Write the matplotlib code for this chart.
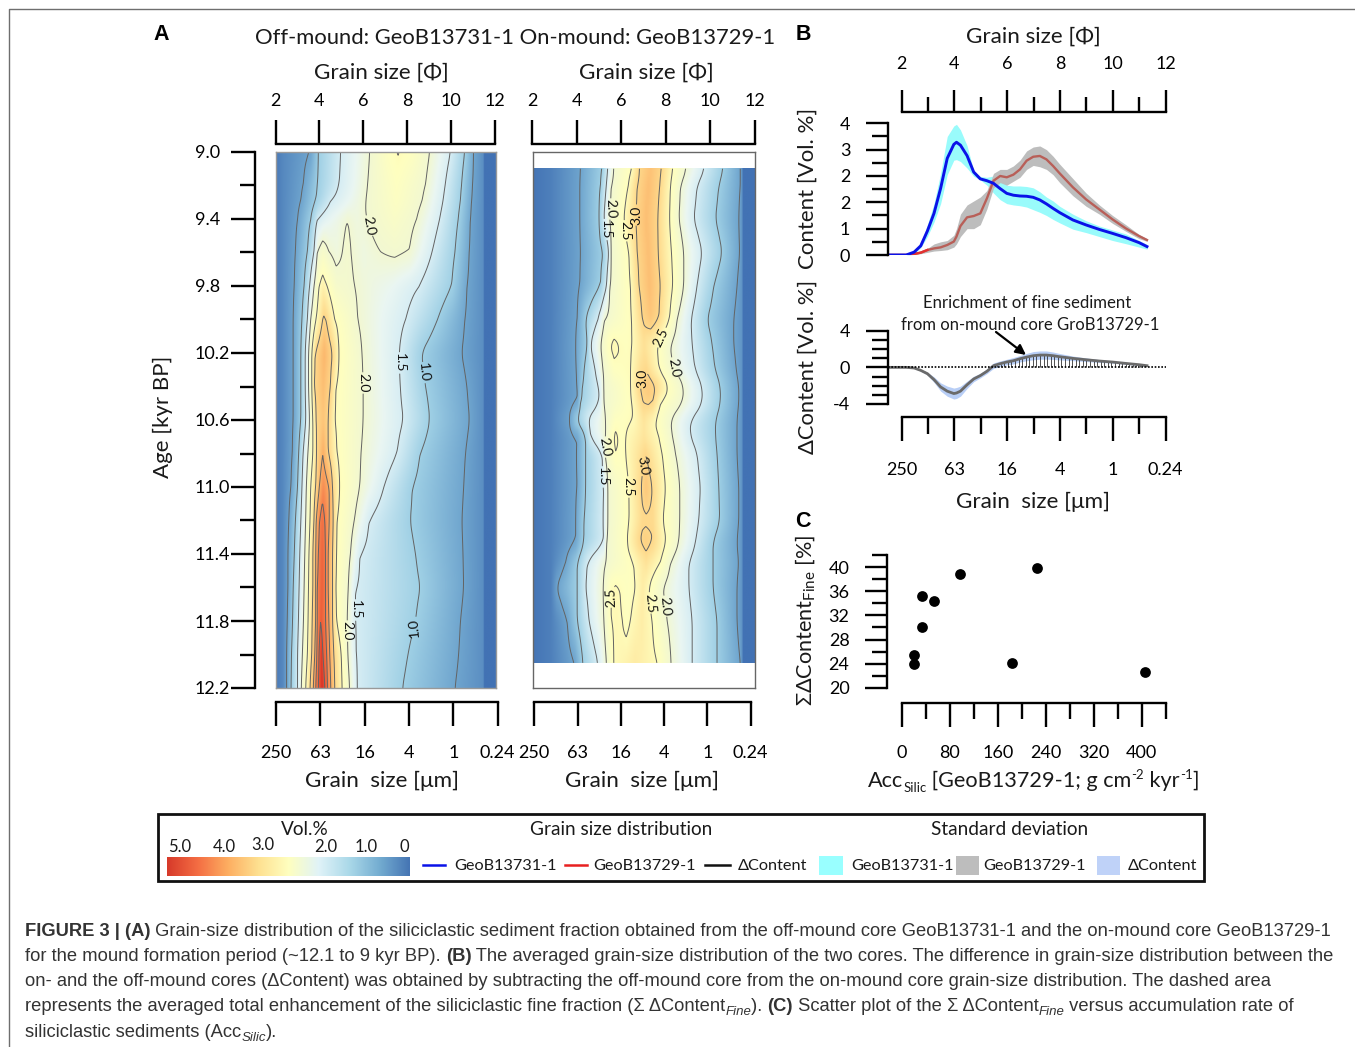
import numpy as np
import matplotlib
matplotlib.use("Agg")
import matplotlib.pyplot as plt
from matplotlib.colors import LinearSegmentedColormap
from matplotlib.patches import Rectangle

W, H = 1355, 1047
plt.rcParams["font.family"] = ["Lato", "DejaVu Sans"]
plt.rcParams["mathtext.default"] = "regular"

# ===== PANEL A DATA: (phi, vol%) knots per age row =====
LEFT_AGES = [9.0, 9.2, 9.3, 9.4, 9.6, 9.8, 10.0, 10.2, 10.4, 10.6, 10.8, 11.0, 11.2, 11.4, 11.6, 11.8, 12.0, 12.2]
LEFT_ROWS = [
    [(3.58,.5),(3.95,1),(4.97,1.5),(6.3,2),(7.1,2.4),(7.6,2.52),(8.2,2.4),(9.05,2),(10,1.5),(10.65,1),(11.05,.5)],
    [(3.26,.5),(3.9,1),(4.9,1.5),(6.2,2),(7.5,2.4),(8.85,2),(9.75,1.5),(10.5,1),(11,.5)],
    [(3.15,.5),(3.83,1),(4.5,1.5),(6.1,2),(7.5,2.35),(8.7,2),(9.65,1.5),(10.45,1),(10.95,.5)],
    [(3,.5),(3.6,1),(3.9,1.5),(4.3,1.7),(5.27,2),(5.7,1.9),(6.15,2),(7.4,2.25),(8.45,2),(9.5,1.5),(10.35,1),(10.9,.5)],
    [(2.9,.5),(3.45,1),(3.75,1.5),(3.9,2),(4.15,2.2),(4.43,2),(4.77,1.9),(5.05,2),(5.25,2.08),(5.45,2),(6,1.88),(6.8,2),(7.45,2.05),(8.1,2),(9.15,1.5),(10.2,1),(10.85,.5)],
    [(2.85,.5),(3.3,1),(3.55,1.5),(3.75,2),(3.98,2.5),(4.15,2.65),(4.35,2.5),(4.75,2.15),(5.6,2),(6.5,1.85),(7.3,1.75),(8.55,1.5),(10.05,1),(10.75,.5)],
    [(2.8,.5),(3.2,1),(3.45,1.5),(3.6,2),(3.85,2.5),(4.15,3),(4.2,3.05),(4.3,3),(4.7,2.5),(5.75,2),(6.8,1.75),(7.95,1.5),(9.4,1),(10.65,.5)],
    [(2.8,.5),(3.15,1),(3.35,1.5),(3.5,2),(3.65,2.5),(3.8,3),(4.2,3.4),(4.6,3),(4.9,2.5),(5.95,2),(7.65,1.5),(8.65,1),(10.5,.5)],
    [(2.8,.5),(3.15,1),(3.35,1.5),(3.5,2),(3.65,2.5),(3.75,3),(4.15,3.3),(4.5,3),(4.75,2.5),(6,2),(7.7,1.5),(8.85,1),(10.75,.5)],
    [(2.8,.5),(3.15,1),(3.38,1.5),(3.55,2),(3.7,2.5),(3.85,3),(4.15,3.2),(4.4,3),(4.7,2.5),(6,2),(7.85,1.5),(9.05,1),(10.87,.5)],
    [(2.76,.5),(3.05,1),(3.25,1.5),(3.47,2),(3.7,2.5),(3.87,3),(4.15,3.48),(4.4,3),(4.8,2.5),(5.9,2),(7.55,1.5),(8.6,1),(10.68,.5)],
    [(2.7,.5),(3,1),(3.2,1.5),(3.4,2),(3.6,2.5),(3.83,3),(4,3.5),(4.15,3.85),(4.45,3.5),(4.6,3),(4.93,2.5),(5.85,2),(6.95,1.5),(8.25,1),(10.6,.5)],
    [(2.6,.5),(2.9,1),(3.15,1.5),(3.37,2),(3.57,2.5),(3.75,3),(3.85,3.5),(4,4),(4.12,4.2),(4.25,4),(4.45,3.5),(4.63,3),(4.8,2.5),(5.6,2),(6.27,1.5),(8.15,1),(10.52,.5)],
    [(2.56,.5),(2.85,1),(3.1,1.5),(3.33,2),(3.52,2.5),(3.7,3),(3.83,3.5),(3.95,4),(4.1,4.35),(4.28,4),(4.4,3.5),(4.6,3),(4.78,2.5),(5.42,2),(5.85,1.5),(8.4,1),(10.57,.5)],
    [(2.56,.5),(2.8,1),(3.07,1.5),(3.3,2),(3.5,2.5),(3.7,3),(3.83,3.5),(3.9,4),(4.1,4.42),(4.28,4),(4.4,3.5),(4.6,3),(4.75,2.5),(5.32,2),(5.65,1.5),(8.62,1),(10.6,.5)],
    [(2.53,.5),(2.77,1),(3.04,1.5),(3.27,2),(3.48,2.5),(3.67,3),(3.83,3.5),(3.9,4),(4.05,4.48),(4.28,4),(4.43,3.5),(4.6,3),(4.78,2.5),(5.27,2),(5.65,1.5),(8.4,1),(10.45,.5)],
    [(2.5,.5),(2.72,1),(3,1.5),(3.22,2),(3.45,2.5),(3.65,3),(3.79,3.5),(3.88,4),(3.98,4.5),(4.07,4.9),(4.16,4.5),(4.33,4),(4.47,3.5),(4.66,3),(5,2.5),(5.3,2),(5.68,1.5),(8.05,1),(10.37,.5)],
    [(2.5,.5),(2.7,1),(3,1.5),(3.17,2),(3.37,2.5),(3.57,3),(3.72,3.5),(3.83,4),(3.95,4.5),(4.1,5),(4.25,4.5),(4.37,4),(4.52,3.5),(4.7,3),(5.04,2.5),(5.38,2),(5.73,1.5),(7.8,1),(10.2,.5)],
]
LEFT_HEAD = [(2, .08), (2.3, .22)]
LEFT_TAIL = [(11.47, .28), (11.5, 0), (12.1, 0)]

RIGHT_AGES = [9.1, 9.2, 9.4, 9.6, 9.8, 10.0, 10.15, 10.3, 10.4, 10.5, 10.6, 10.7, 10.8, 11.0, 11.2, 11.33, 11.45, 11.6, 11.8, 12.05]
RIGHT_ROWS = [
    [(4.14,.5),(5.12,1),(5.37,1.5),(5.64,2),(6.47,2.5),(6.8,3),(7.3,3.25),(7.79,3),(8.3,2.5),(8.9,2),(9.72,1.5),(10.56,1),(11.34,.5)],
    [(4.11,.5),(5.04,1),(5.3,1.5),(5.52,2),(6.29,2.5),(6.69,3),(7.2,3.3),(7.71,3),(8.19,2.5),(8.64,2),(9.39,1.5),(10.37,1),(11.34,.5)],
    [(4.11,.5),(4.97,1),(5.19,1.5),(5.42,2),(6.09,2.5),(6.62,3),(7.1,3.3),(7.62,3),(8.15,2.5),(8.57,2),(9.24,1.5),(10.22,1),(11.27,.5)],
    [(4.14,.5),(5.19,1),(5.42,1.5),(5.52,2),(6.32,2.5),(6.69,3),(7.2,3.3),(7.64,3),(8.24,2.5),(8.79,2),(9.62,1.5),(10.52,1),(11.31,.5)],
    [(4.11,.5),(5.04,1),(5.31,1.5),(5.46,2),(6.39,2.5),(6.77,3),(7.25,3.3),(7.74,3),(8.3,2.5),(8.79,2),(9.39,1.5),(10.14,1),(11.19,.5)],
    [(3.99,.5),(4.37,1),(4.92,1.5),(5.22,2),(6.44,2.5),(6.92,3),(7.3,3.2),(7.67,3),(8.15,2.5),(8.49,2),(9.12,1.5),(9.84,1),(11.04,.5)],
    [(3.92,.5),(4.44,1),(4.59,1.5),(5.04,2),(5.42,2.5),(5.65,2.6),(5.91,2.5),(6.2,2.45),(6.47,2.5),(7,2.85),(7.59,2.5),(8.16,2),(9.17,1.5),(10.07,1),(11.04,.5)],
    [(3.95,.5),(4.3,1),(4.8,1.5),(5.15,2),(5.65,2.42),(6.4,2.5),(6.85,2.9),(7.1,2.98),(7.67,2.5),(8.3,2),(9.3,1.5),(10.2,1),(11.15,.5)],
    [(3.99,.5),(4.22,1),(4.97,1.5),(5.19,2),(6.39,2.5),(6.77,3),(7.2,3.2),(7.59,3),(8.12,2.5),(8.79,2),(9.62,1.5),(10.44,1),(11.27,.5)],
    [(3.99,.5),(4.14,1),(4.97,1.5),(5.19,2),(6.47,2.5),(6.95,3),(7.2,3.05),(7.4,3),(7.74,2.5),(8.72,2),(9.62,1.5),(10.44,1),(11.27,.5)],
    [(3.62,.5),(3.92,1),(4.44,1.5),(5.27,2),(5.7,2.4),(6.54,2.5),(7,2.8),(7.49,2.5),(8.19,2),(9.09,1.5),(10.22,1),(11.19,.5)],
    [(3.99,.5),(4.37,1),(4.59,1.5),(5.27,2),(5.6,2.5),(5.72,2.55),(5.85,2.5),(6,2.4),(6.17,2.5),(7,2.8),(7.67,2.5),(8.27,2),(9.09,1.5),(10.22,1),(11.19,.5)],
    [(3.96,.5),(4.37,1),(5.12,1.5),(5.22,2),(5.72,2.5),(5.95,2.45),(6.17,2.5),(7.07,3),(7.82,2.5),(8.42,2),(9.39,1.5),(10.29,1),(11.19,.5)],
    [(3.99,.5),(4.37,1),(5.19,1.5),(5.37,2),(6.32,2.5),(6.87,3),(7.1,3.2),(7.37,3),(7.97,2.5),(8.61,2),(9.54,1.5),(10.37,1),(11.27,.5)],
    [(3.92,.5),(4.29,1),(5.16,1.5),(5.37,2),(6.33,2.5),(6.92,2.95),(7.41,2.95),(7.85,2.5),(8.61,2),(9.47,1.5),(10.41,1),(11.27,.5)],
    [(3.92,.5),(4.29,1),(5.19,1.5),(5.31,2),(6.24,2.5),(6.77,3),(7.08,3.12),(7.41,3),(8,2.5),(8.57,2),(9.32,1.5),(10.11,1),(11.19,.5)],
    [(3.47,.5),(3.99,1),(4.44,1.5),(5.27,2),(6.54,2.5),(7.1,2.85),(7.74,2.5),(8.19,2),(9.02,1.5),(10.11,1),(11.27,.5)],
    [(3.06,.5),(3.99,1),(4.37,1.5),(5.16,2),(5.52,2.5),(5.72,2.55),(5.91,2.5),(6.24,2.4),(6.62,2.5),(6.95,2.7),(7.22,2.5),(7.82,2),(9.02,1.5),(10.11,1),(11.19,.5)],
    [(3.54,.5),(3.99,1),(4.52,1.5),(5.19,2),(5.52,2.5),(5.75,2.55),(6.02,2.5),(6.2,2.42),(6.39,2.5),(6.9,2.7),(7.37,2.5),(8.04,2),(9.17,1.5),(10.29,1),(11.19,.5)],
    [(3.89,.5),(4.25,1),(4.92,1.5),(5.31,2),(5.64,2.5),(6.6,2.72),(7.62,2.5),(8.22,2),(9.17,1.5),(10.29,1),(11.34,.5)],
]
RIGHT_HEAD = [(2, .03), (2.8, .14)]
RIGHT_TAIL = [(11.4, .36), (11.44, .3), (11.46, 0), (12, 0)]

LEVELS = [.5, 1, 1.5, 2, 2.5, 3, 3.5, 4, 4.5]
HEAT_STOPS = [0, .5, 1, 1.5, 1.75, 2, 2.45, 3, 3.5, 4, 4.5, 5]
HEAT_COLORS = ["#4272B4", "#6FA5CE", "#9FD0E5", "#D6EDF4", "#EAF6F2", "#F2F8D2", "#FFFFBF",
               "#FED88A", "#FCAE64", "#F57F4C", "#EC5B38", "#D73027"]
PHI_TICKS = [2, 4, 6, 8, 10, 12]
UM_LABELS = ["250", "63", "16", "4", "1", "0.24"]
AGE_MAJOR = [9.0, 9.4, 9.8, 10.2, 10.6, 11.0, 11.4, 11.8, 12.2]
AGE_MINOR = [9.2, 9.6, 10.0, 10.4, 10.8, 11.2, 11.6, 12.0]

# ===== PANEL B DATA =====
PHI = [1.5, 2.2, 2.5, 2.75, 3, 3.25, 3.5, 3.75, 4, 4.1, 4.25, 4.5, 4.75, 5, 5.25, 5.5, 5.75, 6, 6.25, 6.5, 6.75, 7,
       7.25, 7.5, 7.75, 8, 8.5, 9, 9.5, 10, 10.5, 11, 11.3]
OFF_MEAN = [0, 0, .11, .35, .91, 1.58, 2.53, 3.67, 4.2, 4.28, 4.17, 3.77, 3.15, 2.89, 2.82, 2.72, 2.52, 2.34, 2.27, 2.24, 2.23, 2.19,
            2.09, 1.94, 1.77, 1.61, 1.33, 1.14, .97, .82, .66, .47, .32]
OFF_UP = [0, 0, .14, .45, 1.15, 1.95, 3.1, 4.5, 4.9, 4.96, 4.75, 4.15, 3.2, 2.98, 2.95, 3.0, 2.9, 2.65, 2.62, 2.62, 2.6, 2.55,
          2.4, 2.2, 2.05, 1.85, 1.55, 1.3, 1.1, .95, .8, .55, .4]
OFF_LOW = [0, 0, .05, .28, .7, 1.25, 1.95, 3.05, 3.6, 3.62, 3.55, 3.3, 2.99, 2.85, 2.65, 2.35, 2.1, 1.95, 1.9, 1.87, 1.82, 1.72,
           1.62, 1.5, 1.35, 1.22, .98, .85, .7, .55, .43, .3, .22]
ON_MEAN = [0, 0, .04, .09, .19, .25, .29, .38, .51, .7, 1.1, 1.43, 1.48, 1.58, 2.15, 2.82, 3.0, 2.95, 3.05, 3.25, 3.58, 3.73,
           3.76, 3.63, 3.38, 3.1, 2.57, 2.11, 1.73, 1.35, 1.01, .72, .57]
ON_UP = [0, 0, .05, .12, .25, .42, .5, .55, .75, 1.0, 1.55, 1.9, 2.05, 2.2, 2.45, 3.1, 3.25, 3.25, 3.38, 3.6, 3.95, 4.1,
         4.14, 4.0, 3.75, 3.45, 2.9, 2.35, 1.9, 1.5, 1.15, .78, .62]
ON_LOW = [0, 0, .02, .05, .1, .15, .17, .2, .3, .42, .7, 1.0, 1.0, 1.15, 1.75, 2.55, 2.75, 2.65, 2.8, 2.95, 3.25, 3.4,
          3.35, 3.25, 3.05, 2.75, 2.25, 1.85, 1.55, 1.2, .9, .62, .52]
DELTA = [0, 0, -.07, -.33, -.69, -1.34, -2.14, -2.6, -2.86, -2.8, -2.6, -1.9, -1.27, -.9, -.43, .18, .4, .58, .72, .94, 1.12, 1.27,
         1.34, 1.34, 1.27, 1.16, .98, .83, .69, .58, .43, .29, .18]
DELTA_SD = [0, 0, .05, .1, .15, .3, .45, .55, .6, .6, .55, .4, .3, .25, .25, .3, .3, .3, .35, .35, .4, .45,
            .45, .45, .4, .35, .25, .2, .15, .12, .1, .1, .08]
B_MAJOR = [0, 1, 2, 3, 4, 5]
B_LABELS = ["0", "1", "2", "2", "3", "4"]
B_MINOR = [.5, 1.5, 2.5, 3.5, 4.5]

# ===== PANEL C DATA =====
ACC = [21, 21, 33, 34.5, 54, 97, 225, 183, 406]
ENRICH = [23.9, 25.5, 30.05, 35.3, 34.4, 38.9, 39.8, 24.1, 22.6]
C_X_MAJOR = [0, 80, 160, 240, 320, 400]
C_X_MINOR = [40, 120, 200, 280, 360, 440]
C_Y_MAJOR = [20, 24, 28, 32, 36, 40]
C_Y_MINOR = [22, 26, 30, 34, 38, 42]

# ===== CAPTION =====
CAPTION = [
    [("FIGURE 3 | (A)", "b"), (" Grain-size distribution of the siliciclastic sediment fraction obtained from the off-mound core GeoB13731-1 and the on-mound core GeoB13729-1", "n")],
    [("for the mound formation period (~12.1 to 9 kyr BP). ", "n"), ("(B)", "b"), (" The averaged grain-size distribution of the two cores. The difference in grain-size distribution between the", "n")],
    [("on- and the off-mound cores (\u0394Content) was obtained by subtracting the off-mound core from the on-mound core grain-size distribution. The dashed area", "n")],
    [("represents the averaged total enhancement of the siliciclastic fine fraction (\u03a3 \u0394Content", "n"), ("Fine", "s"), ("). ", "n"), ("(C)", "b"), (" Scatter plot of the \u03a3 \u0394Content", "n"), ("Fine", "s"), (" versus accumulation rate of", "n")],
    [("siliciclastic sediments (Acc", "n"), ("Silic", "s"), (").", "n")],
]
CAPTION_Y = [931, 956, 981, 1006, 1032]

LW = 1.7
TICK_SIZE = 13
fig = plt.figure(figsize=(W / 100, H / 100), dpi=100)
bg = fig.add_axes([0, 0, 1, 1])
bg.set_xlim(0, W)
bg.set_ylim(H, 0)
bg.axis("off")


def px_axes(x0, y0, x1, y1):
    ax = fig.add_axes([x0 / W, 1 - y1 / H, (x1 - x0) / W, (y1 - y0) / H])
    ax.patch.set_alpha(0)
    return ax


def hide_spines(ax, keep):
    for name, sp in ax.spines.items():
        sp.set_visible(name in keep)
        sp.set_linewidth(LW)


# ===== RULERS =====
def ruler(x0, x1, y, lim, major, labels, minor=None, top=False, major_len=17, minor_len=11, pad=8.5):
    ax = px_axes(x0, y, x1, y + 1)
    ax.set_xlim(*lim)
    ax.set_yticks([])
    hide_spines(ax, ["top" if top else "bottom"])
    if top:
        ax.xaxis.tick_top()
    ax.set_xticks(major)
    ax.set_xticklabels(labels, fontsize=TICK_SIZE)
    if minor:
        ax.set_xticks(minor, minor=True)
    ax.tick_params(axis="x", which="major", length=major_len, width=LW, pad=pad)
    ax.tick_params(axis="x", which="minor", length=minor_len, width=LW)
    return ax


# ===== HEATMAPS =====
def build_field(ages, rows, head, tail, phi_max):
    phi_fine = np.linspace(2, phi_max, 600)
    age_fine = np.linspace(ages[0], ages[-1], 700)
    coarse = []
    for r in rows:
        knots = head + r + tail
        coarse.append(np.interp(phi_fine, [k[0] for k in knots], [k[1] for k in knots]))
    coarse = np.array(coarse)
    field = np.array([np.interp(age_fine, ages, coarse[:, j]) for j in range(len(phi_fine))]).T
    # light smoothing along age so isolines are not kinked at the rows
    kernel = np.ones(25) / 25
    pad = np.pad(field, ((12, 12), (0, 0)), mode="edge")
    field = np.apply_along_axis(lambda c: np.convolve(c, kernel, mode="valid"), 0, pad)
    return phi_fine, age_fine, field


heat_cmap = LinearSegmentedColormap.from_list(
    "vol", [(s / 5, c) for s, c in zip(HEAT_STOPS, HEAT_COLORS)], N=512)


def heat_panel(rect, phi_max, ages, rows, head, tail, labels, edge):
    ax = px_axes(*rect)
    ax.set_xlim(2, phi_max)
    ax.set_ylim(12.2, 9.0)
    ax.patch.set_alpha(1)
    ax.set_xticks([])
    ax.set_yticks([])
    for sp in ax.spines.values():
        sp.set_color(edge)
        sp.set_linewidth(1.0)
    x, y, z = build_field(ages, rows, head, tail, phi_max)
    ax.imshow(z, extent=[x[0], x[-1], y[-1], y[0]], aspect="auto", cmap=heat_cmap, vmin=0, vmax=5,
              interpolation="bilinear")
    # one contour set per level so each label lands on its own isoline
    sets = {lv: ax.contour(x, y, z, levels=[lv], colors="#636363", linewidths=.7) for lv in LEVELS}
    ax.set_xlim(2, phi_max)
    ax.set_ylim(12.2, 9.0)
    scale = (phi_max - 2) / (rect[2] - rect[0])
    for level, px, py, rot in labels:
        cs = sets[level]
        before = len(cs.labelTexts)
        ax.clabel(cs, manual=[(2 + (px - rect[0]) * scale, 9 + (py - 152) / 167.5)],
                  fmt="%.1f", fontsize=10, inline=True, inline_spacing=1)
        for t in cs.labelTexts[before:]:
            t.set_rotation(rot)
            t.set_color("#111111")
    return ax


LEFT_LABELS = [(2.0, 368, 226, -80), (1.5, 395.5, 363, -90), (1.0, 420.5, 373, -85), (2.0, 360, 383, -90),
               (1.5, 356.5, 610, -90), (2.0, 347, 631, -90), (1.0, 413, 627, 95)]
RIGHT_LABELS = [(2.0, 610.5, 209, -88), (1.5, 602.5, 230, -90), (3.0, 635, 215, 90), (2.5, 623.5, 231, -90),
                (2.5, 660.5, 337, 65), (2.0, 675.5, 367, -80), (3.0, 639.5, 377, 90),
                (2.0, 603.5, 447, -80), (1.5, 600, 477, -90), (3.0, 639, 465, -80), (2.5, 627.5, 487, -90),
                (2.5, 608.5, 597, 92), (2.5, 648.5, 603, -85), (2.0, 666.5, 606, -85)]
heat_panel((275.7, 152, 496, 688), 12.08, LEFT_AGES, LEFT_ROWS, LEFT_HEAD, LEFT_TAIL, LEFT_LABELS, "#999999")
heat_panel((533, 152, 755, 688), 12.0, RIGHT_AGES, RIGHT_ROWS, RIGHT_HEAD, RIGHT_TAIL, RIGHT_LABELS, "#666666")

# age axis
age_ax = px_axes(254.7, 152, 255.7, 688)
age_ax.set_ylim(12.2, 9.0)
age_ax.set_xticks([])
hide_spines(age_ax, ["left"])
age_ax.set_yticks(AGE_MAJOR)
age_ax.set_yticklabels([f"{a:.1f}" for a in AGE_MAJOR], fontsize=TICK_SIZE, ha="left")
age_ax.set_yticks(AGE_MINOR, minor=True)
age_ax.tick_params(axis="y", which="major", length=17, width=LW, pad=26)
age_ax.tick_params(axis="y", which="minor", length=11, width=LW)

UM_TICKS = [0, 1, 2, 3, 4, 5]
ruler(275.7, 494.5, 144, (2, 12), PHI_TICKS, [str(p) for p in PHI_TICKS], top=True)
ruler(532.3, 754.7, 144, (2, 12), PHI_TICKS, [str(p) for p in PHI_TICKS], top=True)
ruler(275.7, 497.7, 701, (0, 5), UM_TICKS, UM_LABELS, pad=13.7)
ruler(534.3, 750.7, 701, (0, 5), UM_TICKS, UM_LABELS, pad=13.7)

# ===== PANEL B CURVES =====
PHI_L, PHI_R = 1.5, 2 + (1166 - 901) / 26.45
cur = px_axes(887.7, 123.3, 1166, 255)
cur.set_xlim(PHI_L, PHI_R)
cur.set_ylim(0, 5)
cur.set_xticks([])
hide_spines(cur, ["left"])
cur.fill_between(PHI, OFF_LOW, OFF_UP, color="#99FBFB", lw=0)
cur.fill_between(PHI, ON_LOW, ON_UP, color="#BDBDBD", lw=0)
cur.plot(PHI, ON_MEAN, color="#B85F58", lw=1.7, solid_joinstyle="round")
cur.plot(PHI[:5], ON_MEAN[:5], color="#E33030", lw=1.7)
cur.plot(PHI, OFF_MEAN, color="#0A12E8", lw=2.1, solid_joinstyle="round")
cur.set_yticks(B_MAJOR)
cur.set_yticklabels(B_LABELS, fontsize=TICK_SIZE)
cur.set_yticks(B_MINOR, minor=True)
cur.tick_params(axis="y", which="major", length=16, width=LW, pad=11)
cur.tick_params(axis="y", which="minor", length=11.5, width=LW)

dlt = px_axes(887.7, 330.7, 1166, 404)
dlt.set_xlim(PHI_L, PHI_R)
dlt.set_ylim(-4, 4)
dlt.set_xticks([])
hide_spines(dlt, ["left"])
delta = np.array(DELTA)
sd = np.array(DELTA_SD)
dlt.fill_between(PHI, delta - sd, delta + sd, color="#B8CEF6", lw=0)
hatch_x = np.arange(5.5, 11.3, .135)
dlt.vlines(hatch_x, 0, np.interp(hatch_x, PHI, DELTA), color="#333333", lw=.6)
dlt.plot(PHI, DELTA, color="#6A6A6A", lw=2, solid_joinstyle="round")
dlt.axhline(0, color="black", lw=1.2, ls=(0, (1, 1)))
dlt.set_yticks([-4, 0, 4])
dlt.set_yticklabels(["-4", "0", "4"], fontsize=TICK_SIZE)
dlt.set_yticks([-3, -2, -1, 1, 2, 3], minor=True)
dlt.tick_params(axis="y", which="major", length=16, width=LW, pad=11)
dlt.tick_params(axis="y", which="minor", length=11.5, width=LW)

ruler(901.5, 1165.5, 111.7, (2, 12), PHI_TICKS, [str(p) for p in PHI_TICKS], minor=[3, 5, 7, 9, 11], top=True,
      major_len=16, minor_len=11, pad=12.5)
ruler(901.5, 1165.5, 416, (2, 12), PHI_TICKS, UM_LABELS, minor=[3, 5, 7, 9, 11], major_len=17, minor_len=12, pad=15.7)

# ===== PANEL C =====
sc = px_axes(887, 555, 1166, 687.7)
sc.set_xlim((887 - 901.7) / .6, (1166 - 901.7) / .6)
sc.set_ylim(20, 42.04)
sc.set_xticks([])
hide_spines(sc, ["left"])
sc.scatter(ACC, ENRICH, s=60, color="black", lw=0, zorder=3)
sc.set_yticks(C_Y_MAJOR)
sc.set_yticklabels([str(v) for v in C_Y_MAJOR], fontsize=TICK_SIZE)
sc.set_yticks(C_Y_MINOR, minor=True)
sc.tick_params(axis="y", which="major", length=16, width=LW, pad=11)
sc.tick_params(axis="y", which="minor", length=11, width=LW)
ruler(901.7, 1166, 701.7, (0, 440.5), C_X_MAJOR, [str(v) for v in C_X_MAJOR], minor=C_X_MINOR,
      major_len=17, minor_len=11.5, pad=13.7)

# ===== TEXTS =====
def txt(x, y, s, size=TICK_SIZE, **kw):
    kw.setdefault("ha", "center")
    kw.setdefault("va", "center")
    kw.setdefault("color", "#1a1a1a")
    return bg.text(x, y + 1.5, s, fontsize=size, **kw)


BOLD = ["Liberation Sans", "DejaVu Sans"]
txt(161, 33, "A", 15.5, family=BOLD, weight="bold", color="black")
txt(803, 33, "B", 15.5, family=BOLD, weight="bold", color="black")
txt(803, 520, "C", 15.5, family=BOLD, weight="bold", color="black")
txt(515, 36, "Off-mound: GeoB13731-1 On-mound: GeoB13729-1", 15.8)
txt(381, 71, "Grain size [\u03a6]", 16.2)
txt(646, 71, "Grain size [\u03a6]", 16.2)
txt(1033, 35, "Grain size [\u03a6]", 16.2)
txt(382, 779, "Grain  size [\u03bcm]", 16.2)
txt(642, 779, "Grain  size [\u03bcm]", 16.2)
txt(1033, 500, "Grain  size [\u03bcm]", 16.2)
txt(163, 415, "Age [kyr BP]", 16, rotation=90)
txt(808, 187, "Content [Vol. %]", 16, rotation=90)
txt(808, 365, "\u0394Content [Vol. %]", 15.8, rotation=90)
txt(805, 619, "\u03a3\u0394Content$_{Fine}$ [%]", 15.6, rotation=90)
txt(1027, 302, "Enrichment of fine sediment", 12.1)
txt(1030, 324, "from on-mound core GroB13729-1", 12)
bg.annotate("", xy=(1026, 355), xytext=(996, 332),
            arrowprops=dict(arrowstyle="-|>", color="black", lw=1.6, mutation_scale=15, shrinkA=0, shrinkB=0))

# ===== LEGEND BOX =====
bg.add_patch(Rectangle((158, 814), 1046, 67, fill=False, edgecolor="#111111", lw=2))
txt(305, 828, "Vol.%", 13.7)
txt(621, 828, "Grain size distribution", 13.7)
txt(1010, 828, "Standard deviation", 13.7)
LEGEND_VALUES = ["5.0", "4.0", "3.0", "2.0", "1.0", "0"]
LEGEND_X = [180, 224, 263, 326, 366, 404]
LEGEND_Y = [846, 846, 844, 846, 845, 846]
for s, x, y in zip(LEGEND_VALUES, LEGEND_X, LEGEND_Y):
    txt(x, y, s, 12)
bar_cmap = LinearSegmentedColormap.from_list(
    "bar", ["#D73A2A", "#F46D43", "#FDAE61", "#FEE090", "#FFFFBF", "#E0F3F8", "#ABD9E9", "#74ADD1", "#4575B4"])
bar = px_axes(166.5, 856.5, 409, 875.5)
bar.imshow(np.linspace(0, 1, 256)[None, :], aspect="auto", cmap=bar_cmap)
bar.axis("off")
for x0, x1, color in [(423, 445, "#0A12E8"), (565, 587, "#E82020"), (705, 730, "#111111")]:
    bg.plot([x0, x1], [865, 865], color=color, lw=1.8)
for x0, x1, color in [(818.5, 843, "#99FFFF"), (956, 979, "#BDBDBD"), (1096.5, 1120, "#BFD2F8")]:
    bg.add_patch(Rectangle((x0, 856), x1 - x0, 19, facecolor=color, edgecolor="none"))
for x, s in [(454, "GeoB13731-1"), (593, "GeoB13729-1"), (738, "\u0394Content"),
             (851, "GeoB13731-1"), (983, "GeoB13729-1"), (1128, "\u0394Content")]:
    txt(x, 864, s, 11.7, ha="left")

# ===== RUNS OF TEXT =====
fig.canvas.draw()
rend = fig.canvas.get_renderer()


def run_text(x, y, s, **kw):
    t = bg.text(x, y, s, ha="left", va="baseline", **kw)
    return x + t.get_window_extent(rend).width


x = 868
for s, size, dy in [("Acc", 15.6, 0), ("Silic", 9.5, 5), (" [GeoB13729-1; g cm", 15.6, 0), ("-2", 9.5, -8),
                    (" kyr", 15.6, 0), ("-1", 9.5, -8), ("]", 15.6, 0)]:
    x = run_text(x, 787 + dy, s, fontsize=size, color="#1a1a1a")

CAP_FONT = ["Liberation Sans", "DejaVu Sans"]
for runs, y in zip(CAPTION, CAPTION_Y):
    x = 25
    for s, style in runs:
        kw = dict(fontsize=13.23, family=CAP_FONT, color="#333333")
        yy = y + 5
        if style == "b":
            kw["weight"] = "bold"
        if style == "s":
            kw["fontsize"] = 9.5
            kw["style"] = "italic"
            yy += 4
        x = run_text(x, yy, s, **kw)

# page edge line
bg.plot([1355, 8.5, 8.5], [9, 9, 1047], color="#6e6e6e", lw=1.0, clip_on=False)

fig.savefig("out.png", dpi=100)
